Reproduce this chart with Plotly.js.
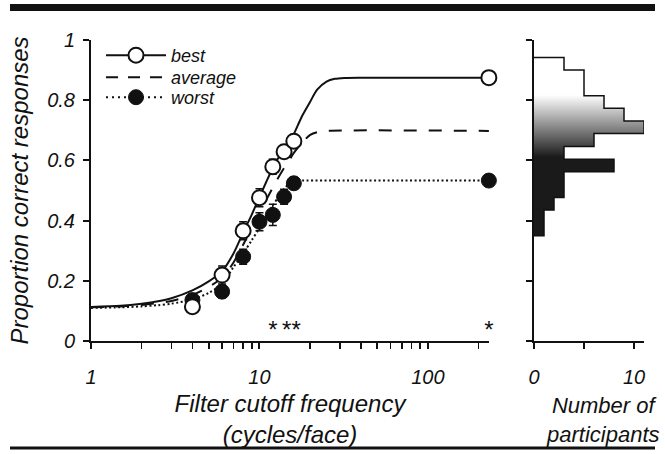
<!DOCTYPE html>
<html>
<head>
<meta charset="utf-8">
<script src="https://cdn.plot.ly/plotly-3.0.1.min.js"></script>
<style>html,body{margin:0;padding:0;background:#fff;}#chart{width:665px;height:454px;}</style>
</head>
<body>
<div id="chart"></div>
<script>
// ---- data ----
const freqPoints = [4, 6, 8, 10, 12, 14, 16, 230];
const bestValues = [0.114, 0.219, 0.366, 0.476, 0.579, 0.629, 0.664, 0.875];
const bestErrors = [0.02, 0.03, 0.03, 0.03, 0.025, 0.02, 0.02, 0.01];
const worstValues = [0.136, 0.164, 0.280, 0.396, 0.419, 0.479, 0.524, 0.533];
const worstErrors = [0.02, 0.02, 0.025, 0.03, 0.035, 0.025, 0.02, 0.01];

const bestCurveX = [1, 1.5, 2, 2.5, 3, 4, 5, 6, 7, 8, 9, 10, 11, 12, 13, 14, 15, 16, 17, 18, 20, 22, 25, 28, 32, 40, 230];
const bestCurveY = [0.113, 0.117, 0.124, 0.132, 0.142, 0.168, 0.198, 0.232, 0.29, 0.36, 0.42, 0.478, 0.53, 0.575, 0.61, 0.643, 0.665, 0.688, 0.72, 0.75, 0.795, 0.835, 0.862, 0.871, 0.874, 0.875, 0.875];
const avgCurveX = [1, 1.5, 2, 2.5, 3, 4, 5, 6, 7, 8, 9, 10, 11, 12, 13, 14, 15, 16, 18, 20, 22, 25, 230];
const avgCurveY = [0.112, 0.115, 0.12, 0.126, 0.133, 0.153, 0.18, 0.21, 0.26, 0.32, 0.375, 0.425, 0.47, 0.51, 0.545, 0.575, 0.6, 0.625, 0.66, 0.685, 0.694, 0.698, 0.698];
const worstCurveX = [1, 1.5, 2, 2.5, 3, 4, 5, 6, 7, 8, 9, 10, 11, 12, 13, 14, 15, 16, 18, 20, 230];
const worstCurveY = [0.11, 0.112, 0.115, 0.119, 0.124, 0.138, 0.16, 0.19, 0.245, 0.29, 0.335, 0.375, 0.415, 0.45, 0.48, 0.505, 0.522, 0.53, 0.533, 0.533, 0.533];

const starX = [12, 14.5, 16.5, 230];
const starY = [0.03, 0.03, 0.03, 0.03];

const histEdges = [0.35, 0.392, 0.435, 0.477, 0.519, 0.562, 0.604, 0.646, 0.689, 0.731, 0.773, 0.815, 0.858, 0.900, 0.942];
const histCounts = [1, 1, 2, 3, 3, 8, 3, 6, 11, 9, 7, 5, 5, 3];

const seriesNames = ['best', 'average', 'worst'];
const xTickVals = [1, 10, 100];
const xTickText = ['1', '10', '100'];
const xMinorVals = [2, 3, 4, 5, 6, 7, 8, 9, 20, 30, 40, 50, 60, 70, 80, 90, 200];
const yTickVals = [0, 0.2, 0.4, 0.6, 0.8, 1];
const yTickText = ['0', '0.2', '0.4', '0.6', '0.8', '1'];
const histTickVals = [0, 5, 10];
const histTickText = ['0', '', '10'];

// ---- build histogram step outline ----
const histX = [0], histY = [histEdges[0]];
for (let i = 0; i < histCounts.length; i++) {
  histX.push(histCounts[i], histCounts[i]);
  histY.push(histEdges[i], histEdges[i + 1]);
}
histX.push(0); histY.push(histEdges[histEdges.length - 1]);

const FONT = 'Liberation Sans, Arial, Helvetica, sans-serif';
const BLACK = '#111';

const traces = [
  // legend-only entries (one legend box each)
  {x: [null], y: [null], name: seriesNames[0], legend: 'legend', mode: 'lines+markers', line: {color: BLACK, width: 2},
   marker: {symbol: 'circle', size: 15, color: 'white', line: {color: BLACK, width: 2}}, showlegend: true},
  {x: [null], y: [null], name: seriesNames[1], legend: 'legend2', mode: 'lines', line: {color: BLACK, width: 2, dash: '12px,10px'}, showlegend: true},
  {x: [null], y: [null], name: seriesNames[2], legend: 'legend3', mode: 'lines+markers', line: {color: BLACK, width: 2, dash: '2px,4px'},
   marker: {symbol: 'circle', size: 15, color: BLACK, line: {color: BLACK, width: 1}}, showlegend: true},
  // fitted curves
  {x: worstCurveX, y: worstCurveY, mode: 'lines', line: {color: BLACK, width: 2, dash: '2px,2.5px', shape: 'spline', smoothing: 0.8}, showlegend: false, hoverinfo: 'skip', cliponaxis: false},
  {x: avgCurveX, y: avgCurveY, mode: 'lines', line: {color: BLACK, width: 2, dash: '13px,12px', shape: 'spline', smoothing: 0.8}, showlegend: false, hoverinfo: 'skip', cliponaxis: false},
  {x: bestCurveX, y: bestCurveY, mode: 'lines', line: {color: BLACK, width: 2, shape: 'spline', smoothing: 0.8}, showlegend: false, hoverinfo: 'skip', cliponaxis: false},
  // data points
  {x: freqPoints, y: worstValues, mode: 'markers', name: 'worst', cliponaxis: false,
   error_y: {type: 'data', array: worstErrors, visible: true, color: BLACK, thickness: 1.5, width: 4},
   marker: {symbol: 'circle', size: 15, color: BLACK, line: {color: BLACK, width: 1}}, showlegend: false},
  {x: freqPoints, y: bestValues, mode: 'markers', name: 'best', cliponaxis: false,
   error_y: {type: 'data', array: bestErrors, visible: true, color: BLACK, thickness: 1.5, width: 4},
   marker: {symbol: 'circle', size: 15, color: 'white', line: {color: BLACK, width: 2}}, showlegend: false},
  // significance stars
  {x: starX, y: starY, mode: 'text', text: starX.map(() => '*'), textposition: 'middle center', cliponaxis: false,
   textfont: {family: FONT, size: 24, color: BLACK}, showlegend: false, hoverinfo: 'skip'},
  // histogram
  {x: histX, y: histY, xaxis: 'x2', yaxis: 'y2', mode: 'lines', fill: 'toself',
   fillgradient: {type: 'vertical', colorscale: [[0, '#1a1a1a'], [1, '#ffffff']], start: 0.611, stop: 0.817},
   line: {color: BLACK, width: 1.5}, showlegend: false, hoverinfo: 'skip'}
];

const W = 665, H = 454;
const yDomain = [113 / H, 414 / H];
const axisCommon = {showline: true, linewidth: 2, linecolor: BLACK, ticks: 'outside', ticklen: 6, tickwidth: 2,
  tickcolor: BLACK, showgrid: false, zeroline: false, fixedrange: true};
const legendFont = {family: FONT, size: 18, style: 'italic', color: BLACK};
const legendBase = {xanchor: 'left', yanchor: 'top', bgcolor: 'rgba(0,0,0,0)', font: legendFont, itemwidth: 60, tracegroupgap: 0};

const layout = {
  width: W, height: H,
  margin: {l: 0, r: 0, t: 0, b: 0},
  paper_bgcolor: '#fff', plot_bgcolor: 'rgba(0,0,0,0)',
  font: {family: FONT, color: BLACK},
  showlegend: true,
  legend: Object.assign({x: 101 / W, y: 1 - 37 / H}, legendBase),
  legend2: Object.assign({x: 101 / W, y: 1 - 59 / H}, legendBase),
  legend3: Object.assign({x: 101 / W, y: 1 - 79 / H}, legendBase),
  xaxis: Object.assign({}, axisCommon, {
    type: 'log', range: [0, 2.3625], domain: [91 / W, 489 / W], anchor: 'y',
    tickmode: 'array', tickvals: xTickVals, ticktext: xTickText,
    tickfont: {family: FONT, size: 20, style: 'italic', color: BLACK}, ticklabelstandoff: 11,
    minor: {tickmode: 'array', tickvals: xMinorVals, ticks: 'outside', ticklen: 6, tickwidth: 1.5, tickcolor: BLACK, showgrid: false},
    title: {text: 'Filter cutoff frequency<br>(cycles/face)', font: {family: FONT, size: 24, style: 'italic', color: BLACK}, standoff: 8}
  }),
  yaxis: Object.assign({}, axisCommon, {
    range: [0, 1], domain: yDomain, anchor: 'x',
    tickmode: 'array', tickvals: yTickVals, ticktext: yTickText,
    tickfont: {family: FONT, size: 20, style: 'italic', color: BLACK}, ticklabelstandoff: 4,
    title: {text: 'Proportion correct responses', font: {family: FONT, size: 24, style: 'italic', color: BLACK}, standoff: 12}
  }),
  xaxis2: Object.assign({}, axisCommon, {
    range: [0, 11], domain: [534 / W, 644 / W], anchor: 'y2',
    tickmode: 'array', tickvals: histTickVals, ticktext: histTickText,
    tickfont: {family: FONT, size: 20, style: 'italic', color: BLACK}, ticklabelstandoff: 11
  }),
  yaxis2: Object.assign({}, axisCommon, {
    range: [0, 1], domain: yDomain, anchor: 'x2',
    tickmode: 'array', tickvals: yTickVals, showticklabels: false
  }),
  annotations: [
    {xref: 'paper', yref: 'paper', x: 603 / W, y: 1 - 420 / H, xanchor: 'center', yanchor: 'middle', showarrow: false,
     text: 'Number of<br>participants', font: {family: FONT, size: 22, style: 'italic', color: BLACK}}
  ],
  shapes: [
    {type: 'rect', xref: 'paper', yref: 'paper', x0: 10 / W, x1: 655 / W, y0: 1 - 11 / H, y1: 1 - 4 / H, fillcolor: BLACK, line: {width: 0}},
    {type: 'line', xref: 'paper', yref: 'paper', x0: 10 / W, x1: 655 / W, y0: 1 - 448 / H, y1: 1 - 448 / H, line: {color: BLACK, width: 3}}
  ]
};

Plotly.newPlot('chart', traces, layout, {staticPlot: true, displayModeBar: false});
</script>
</body>
</html>
